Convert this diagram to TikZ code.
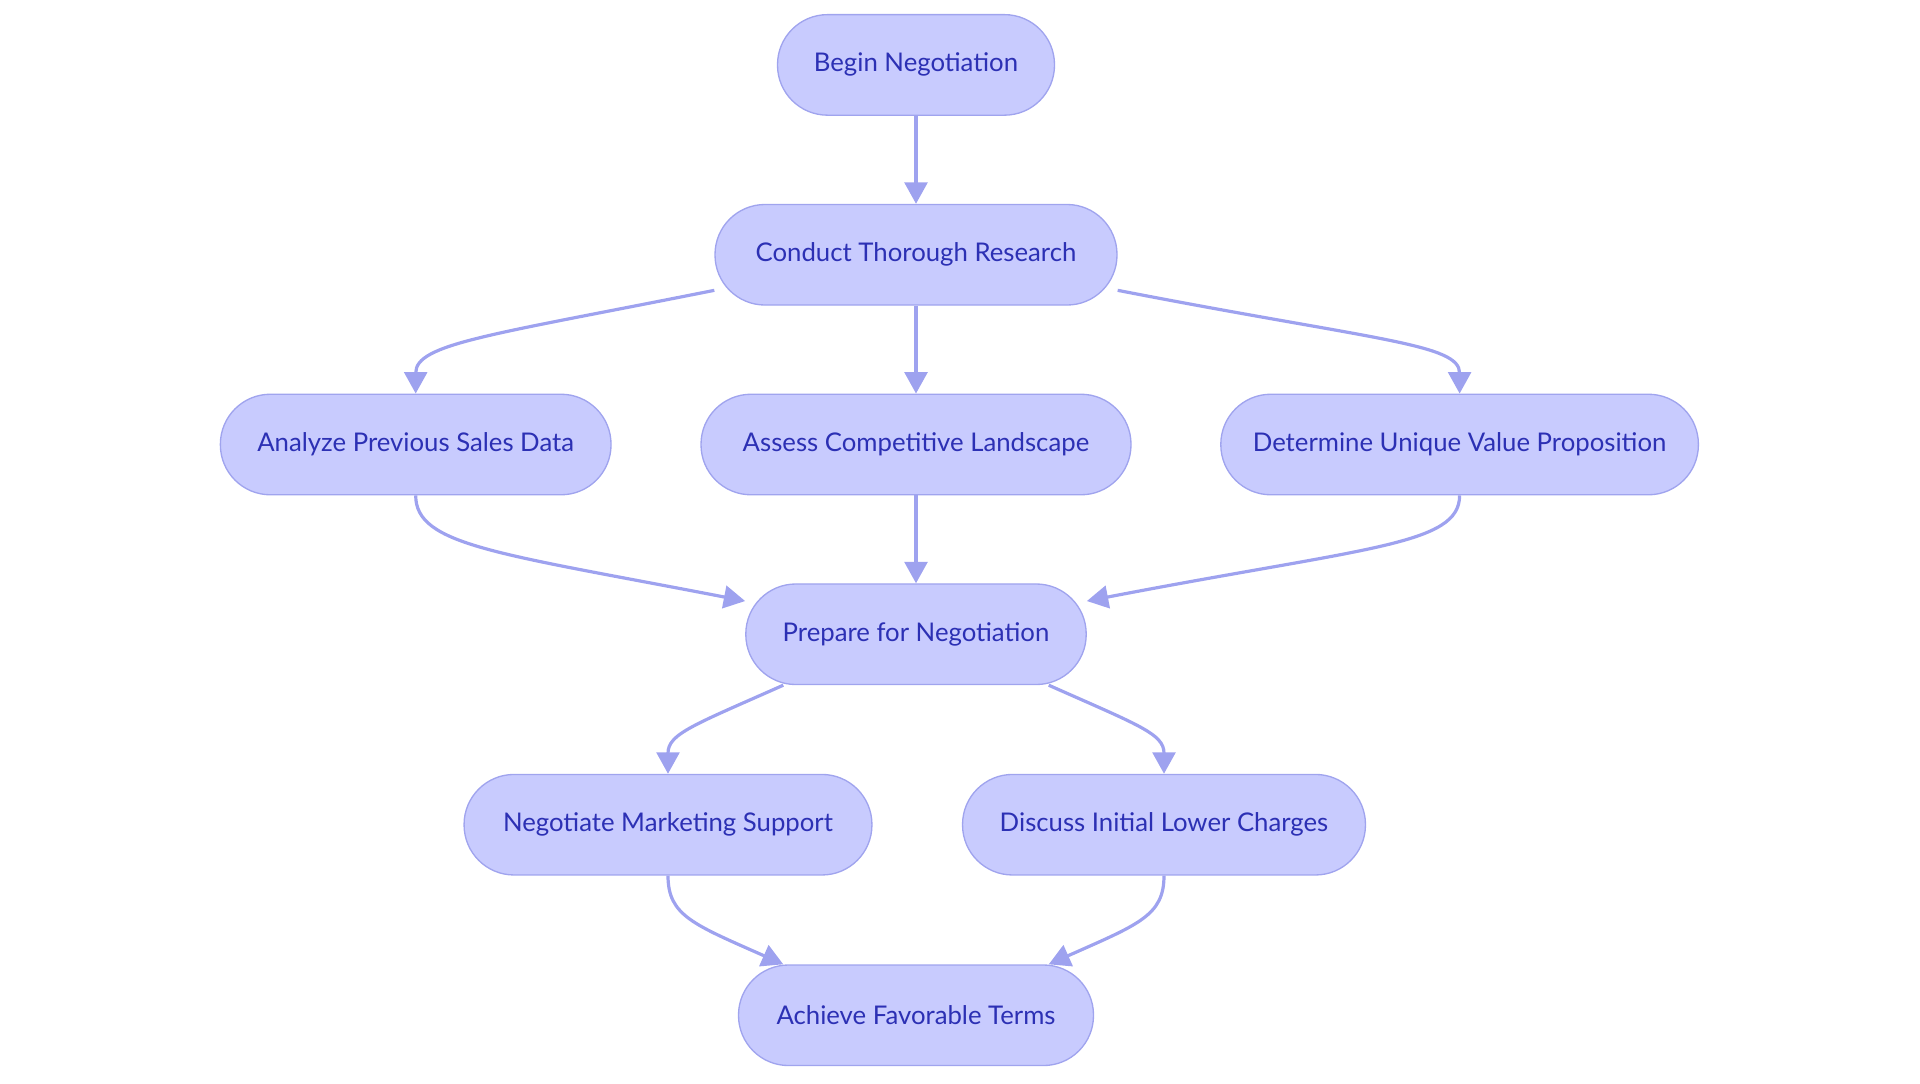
\documentclass[tikz,border=0pt]{standalone}
\usepackage{fontspec}
\setmainfont{Lato}
\usetikzlibrary{arrows.meta}

\definecolor{boxfill}{HTML}{C8CBFE}
\definecolor{boxline}{HTML}{A0A4EE}
\definecolor{boxtext}{HTML}{2C30B4}
\definecolor{edgeline}{HTML}{9EA2EF}

\tikzset{
  stepbox/.style={draw=boxline, fill=boxfill, line width=1pt, rounded corners=37.5pt,
    minimum height=75.4pt, inner sep=0pt, text=boxtext, font=\fontsize{19.3}{23}\selectfont},
  flow/.style={draw=edgeline, line width=2.4pt, -{Triangle[length=16pt,width=17pt]}}
}

\begin{document}
\begin{tikzpicture}[x=0.75pt,y=0.75pt,yscale=-1,xscale=1]
\useasboundingbox (0,0) rectangle (1920,1083);

% Nodes
\node[stepbox, minimum width=207.75pt] (begin) at (916,64.9) {Begin Negotiation};
\node[stepbox, minimum width=301.5pt] (conduct) at (916,254.75) {Conduct Thorough Research};
\node[stepbox, minimum width=293pt] (analyze) at (415.7,444.5) {Analyze Previous Sales Data};
\node[stepbox, minimum width=322.5pt] (assess) at (916,444.5) {Assess Competitive Landscape};
\node[stepbox, minimum width=358.2pt] (determine) at (1459.6,444.5) {Determine Unique Value Proposition};
\node[stepbox, minimum width=255.3pt] (prepare) at (916,634.25) {Prepare for Negotiation};
\node[stepbox, minimum width=305.9pt] (negotiate) at (668,824.7) {Negotiate Marketing Support};
\node[stepbox, minimum width=302.2pt] (discuss) at (1164,824.7) {Discuss Initial Lower Charges};
\node[stepbox, minimum width=266.25pt] (achieve) at (916,1015.25) {Achieve Favorable Terms};

% Connectors
\draw[flow] (begin.south) -- (conduct.north);
\draw[flow] (conduct.190.7) .. controls +(-225,45) and +(0,-50) .. (analyze.north);
\draw[flow] (conduct.south) -- (assess.north);
\draw[flow] (conduct.350) .. controls +(257,50) and +(0,-50) .. (determine.north);
\draw[flow] (analyze.south) .. controls +(0,50) and +(-248,-48) .. (prepare.169);
\draw[flow] (assess.south) -- (prepare.north);
\draw[flow] (determine.south) .. controls +(0,50) and +(280,-54) .. (prepare.11);
\draw[flow] (prepare.201) .. controls +(-90,40) and +(0,-40) .. (negotiate.north);
\draw[flow] (prepare.339) .. controls +(90,40) and +(0,-40) .. (discuss.north);
\draw[flow] (negotiate.south) .. controls +(0,40) and +(-90,-40) .. (achieve.159);
\draw[flow] (discuss.south) .. controls +(0,40) and +(90,-40) .. (achieve.21);
\end{tikzpicture}
\end{document}
